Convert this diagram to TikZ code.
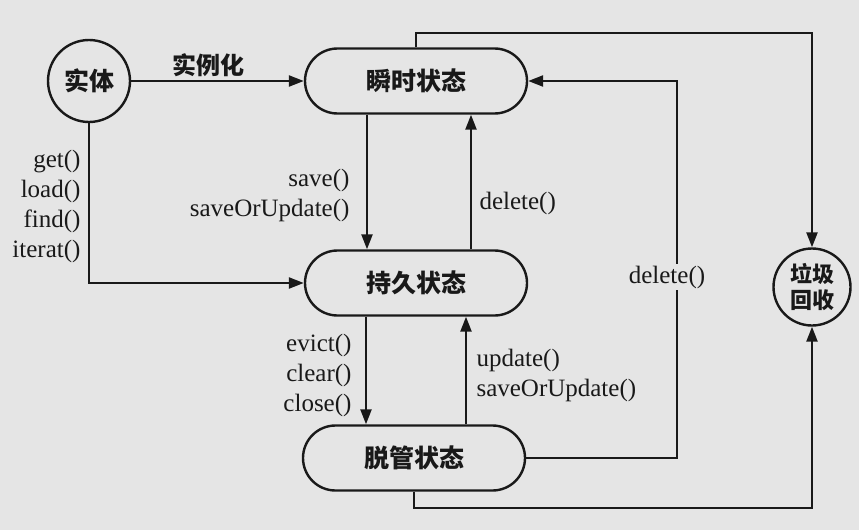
\documentclass[tikz,border=0pt]{standalone}
\usepackage{fontspec}
\setmainfont{Liberation Serif}
\newfontfamily\cjk{Noto Sans CJK SC}
\usetikzlibrary{arrows.meta,calc,positioning}
\definecolor{paper}{RGB}{229,229,229}
\definecolor{ink}{RGB}{25,25,25}

\begin{document}
\begin{tikzpicture}[x=1pt, y=-1pt, line width=2.4pt, color=ink,
    every node/.style={font=\fontsize{25}{30}\selectfont},
    statebox/.style={draw, rounded corners=32.5pt, minimum width=222pt, minimum height=65pt, font=\cjk\bfseries\fontsize{25}{30}\selectfont},
    endbox/.style={draw, circle, inner sep=0pt, align=center},
    arr/.style={-{Triangle[length=15pt,width=11pt]}}]
    % Background
    \fill[paper] (0,0) rectangle (859,530);
    \useasboundingbox (0,0) rectangle (859,530);
    % States
    \node[endbox, minimum size=82pt, font=\cjk\bfseries\fontsize{25}{30}\selectfont] (ent) at (89,81) {实体};
    \node[statebox] (tr) at (416,81) {瞬时状态};
    \node[statebox] (pe) at (416,283) {持久状态};
    \node[statebox] (de) at (414,458) {脱管状态};
    \node[endbox, minimum size=77pt, font=\cjk\bfseries\fontsize{22}{26}\selectfont] (gc) at (812,287) {垃圾\\回收};
    % Transitions between states
    \draw[arr] (ent) -- node[above, pos=0.45, font=\cjk\bfseries\fontsize{24}{28}\selectfont] {实例化} (tr);
    \draw[arr] (ent.south) |- node[pos=0.26, left=4pt, align=right] {get()\\load()\\find()\\iterat()} (pe.west);
    \draw[arr] ([xshift=-49pt]tr.south) -- node[pos=0.6, left=13pt, align=right] {save()\\saveOrUpdate()} ([xshift=-49pt]tr.south |- pe.north);
    \draw[arr] ([xshift=55pt]pe.north) -- node[pos=0.34, right=4pt] {delete()} ([xshift=55pt]pe.north |- tr.south);
    \draw[arr] ([xshift=-50pt]pe.south) -- node[pos=0.55, left=10pt, align=right] {evict()\\clear()\\close()} ([xshift=-50pt]pe.south |- de.north);
    \draw[arr] ([xshift=52pt]de.north) -- node[pos=0.45, right=6pt, align=left] {update()\\saveOrUpdate()} ([xshift=52pt]de.north |- pe.south);
    % Back to transient
    \coordinate (dtop) at (677,81);
    \draw[arr] (de.east) -| node[pos=0.74, fill=paper, inner sep=2pt, xshift=-10pt] {delete()} (dtop) -- (tr.east);
    % Garbage collection
    \coordinate (gtop) at (812,33);
    \draw[arr] (tr.north) |- (gtop) -- (gc.north);
    \coordinate (gbot) at (812,508);
    \draw[arr] (de.south) |- (gbot) -- (gc.south);
\end{tikzpicture}
\end{document}
